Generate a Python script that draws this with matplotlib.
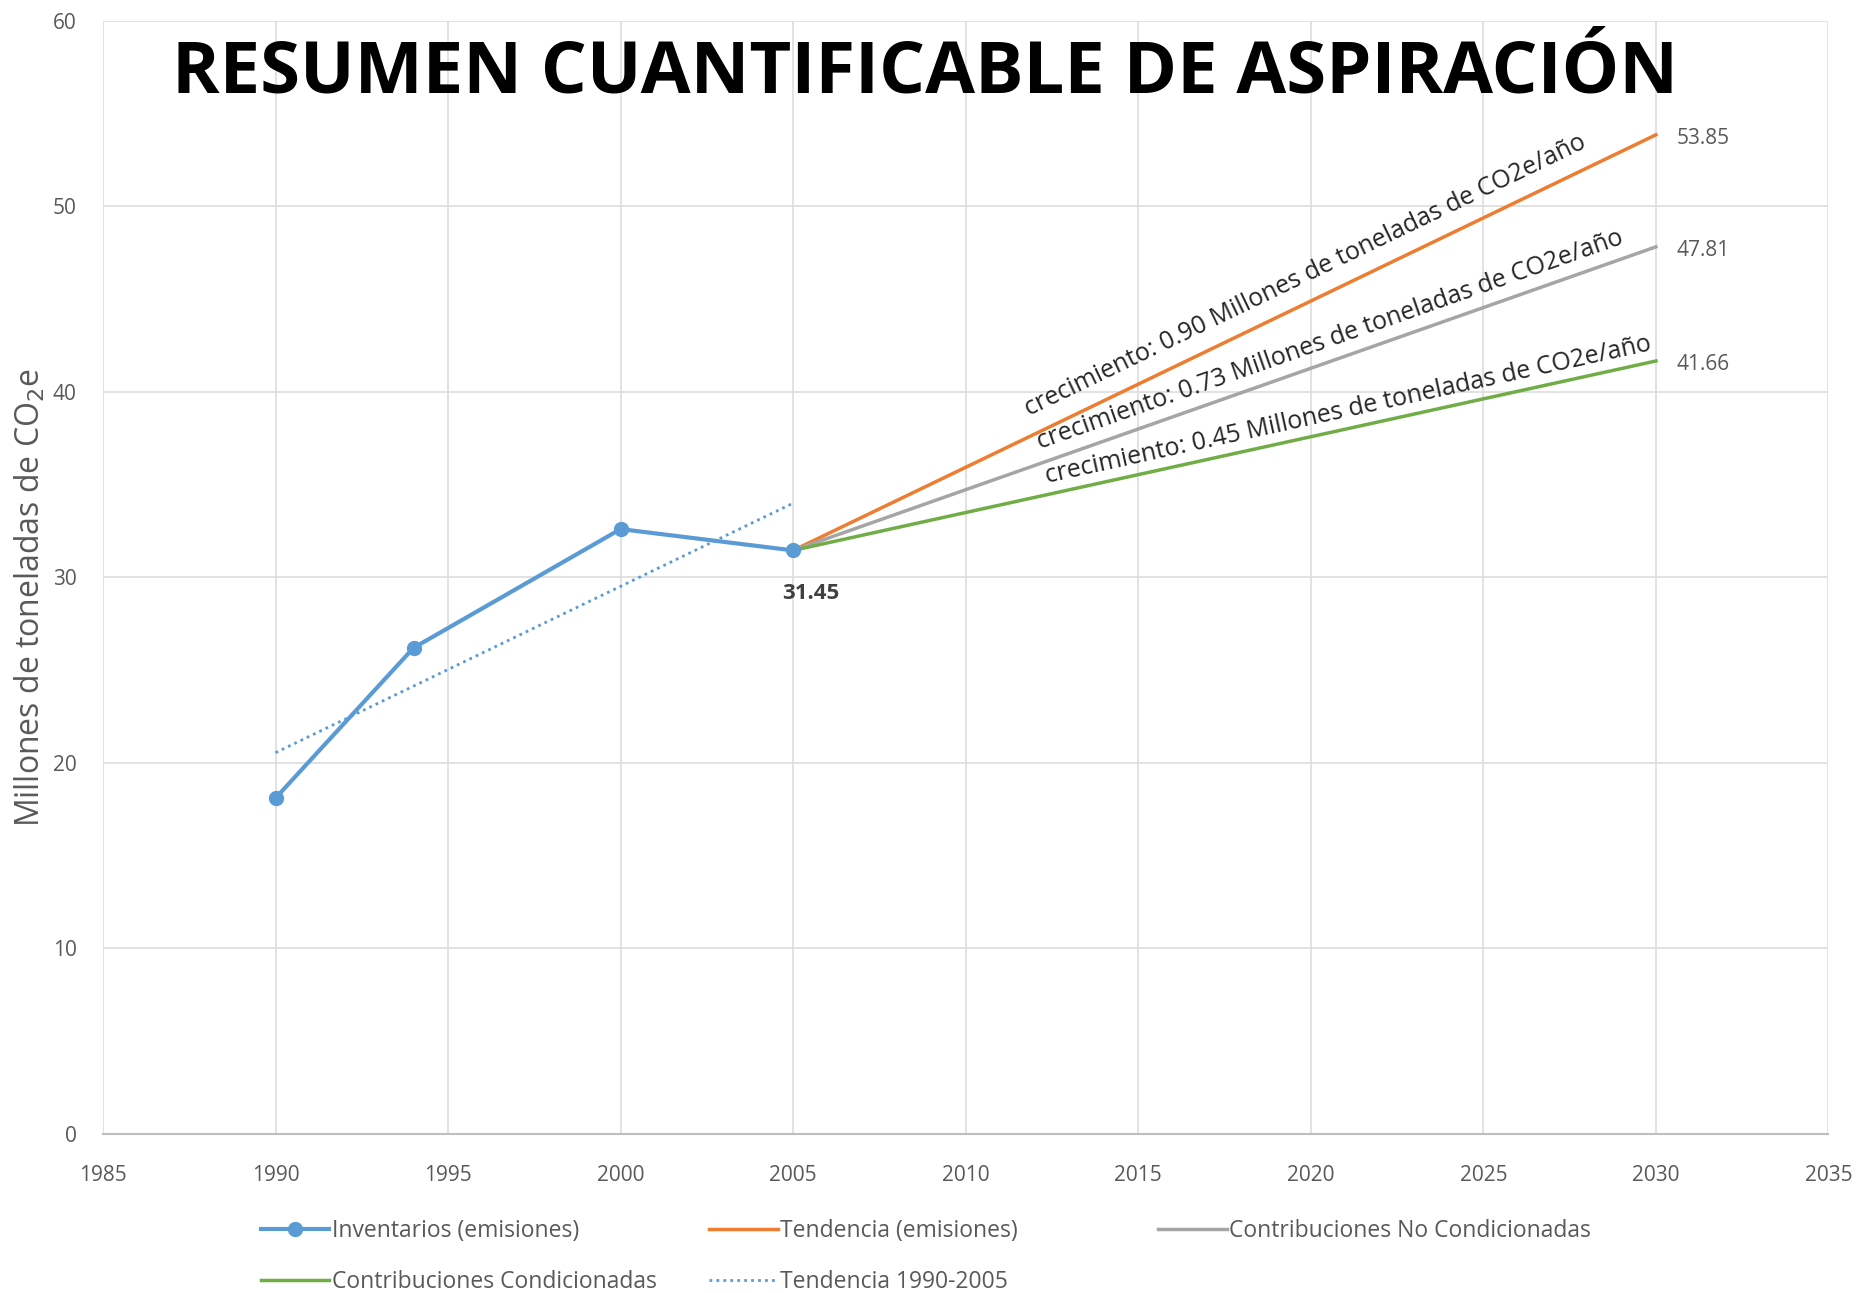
import numpy as np
import matplotlib
matplotlib.use("Agg")
import matplotlib.pyplot as plt

plt.rcParams['font.family'] = ['Open Sans', 'DejaVu Sans']

# data
inv_years = [1990, 1994, 2000, 2005]
inv_values = [18.1, 26.2, 32.6, 31.45]

trend_years = [1990, 2005]
trend_values = [20.55, 34.0]

proj_years = [2005, 2030]
tend_values = [31.45, 53.85]
no_cond_values = [31.45, 47.81]
cond_values = [31.45, 41.66]

growth_labels = ["crecimiento: 0.90 Millones de toneladas de CO2e/año",
                 "crecimiento: 0.73 Millones de toneladas de CO2e/año",
                 "crecimiento: 0.45 Millones de toneladas de CO2e/año"]

blue = '#5B9BD5'
orange = '#ED7D31'
grey = '#A5A5A5'
green = '#70AD47'
txt = '#595959'

fig = plt.figure(figsize=(18.62, 12.93), dpi=100)
ax = fig.add_axes([0.0553, 0.123, 0.9267, 0.861])

h_inv, = ax.plot(inv_years, inv_values, color=blue, lw=3, marker='o', ms=10,
                 label='Inventarios (emisiones)', zorder=4)
h_tend, = ax.plot(proj_years, tend_values, color=orange, lw=2.5, label='Tendencia (emisiones)', zorder=3)
h_nc, = ax.plot(proj_years, no_cond_values, color=grey, lw=2.5, label='Contribuciones No Condicionadas', zorder=3)
h_c, = ax.plot(proj_years, cond_values, color=green, lw=2.5, label='Contribuciones Condicionadas', zorder=3)
h_tr, = ax.plot(trend_years, trend_values, color=blue, lw=2, linestyle=(0, (1, 1.5)),
                label='Tendencia 1990-2005', zorder=2)

ax.set_xlim(1985, 2035)
ax.set_ylim(0, 60)
ax.set_xticks(range(1985, 2036, 5))
ax.set_yticks(range(0, 61, 10))
ax.grid(True, color='#DDDDDD', lw=1.2)
ax.set_axisbelow(True)
for s in ['top', 'right', 'left']:
    ax.spines[s].set_visible(False)
ax.spines['bottom'].set_color('#BFBFBF')
ax.spines['bottom'].set_linewidth(1.5)
ax.tick_params(length=0, labelsize=15, labelcolor=txt)
ax.tick_params(axis='x', pad=22)
ax.tick_params(axis='y', pad=19)
ax.set_ylabel('Millones de toneladas de CO$_2$e', fontsize=23, color=txt)
ax.yaxis.set_label_coords(-0.032, 0.482)

# rotated growth labels along each projection line
fig.canvas.draw()
offsets = [0.75, 0.45, 0.3]
starts = [2011.9, 2012.2, 2012.4]
for vals, lab, off, x0 in zip([tend_values, no_cond_values, cond_values], growth_labels, offsets, starts):
    p0 = ax.transData.transform((proj_years[0], vals[0]))
    p1 = ax.transData.transform((proj_years[1], vals[1]))
    ang = np.degrees(np.arctan2(p1[1] - p0[1], p1[0] - p0[0]))
    slope = (vals[1] - vals[0]) / (proj_years[1] - proj_years[0])
    y0 = vals[0] + slope * (x0 - proj_years[0]) + off
    ax.text(x0, y0, lab, rotation=ang, rotation_mode='anchor', ha='left', va='bottom',
            fontsize=18, color='#262626')

# end values
for vals in [tend_values, no_cond_values, cond_values]:
    ax.text(2030.6, vals[1] - 0.2, f"{vals[1]:.2f}", fontsize=15, color=txt, va='center', ha='left')
ax.text(2005.5, inv_values[-1] - 2.3, f"{inv_values[-1]:.2f}", fontsize=16, color='#404040',
        fontweight='bold', ha='center', va='center')

fig.text(0.497, 0.943, 'RESUMEN CUANTIFICABLE DE ASPIRACIÓN', fontsize=52, fontweight='bold',
         ha='center', va='center', color='black')

# legend: equal-width columns, filled row by row
legend_cols = [[h_inv, h_c], [h_tend, h_tr], [h_nc]]
col_x = [0.140, 0.381, 0.622]
for hs, x in zip(legend_cols, col_x):
    fig.legend(handles=hs, loc='upper left', bbox_to_anchor=(x, 0.057), frameon=False,
               fontsize=16.5, labelcolor=txt, handlelength=3.0, handletextpad=0.1,
               labelspacing=1.15, borderpad=0, borderaxespad=0)

fig.savefig('out.png', dpi=100)
